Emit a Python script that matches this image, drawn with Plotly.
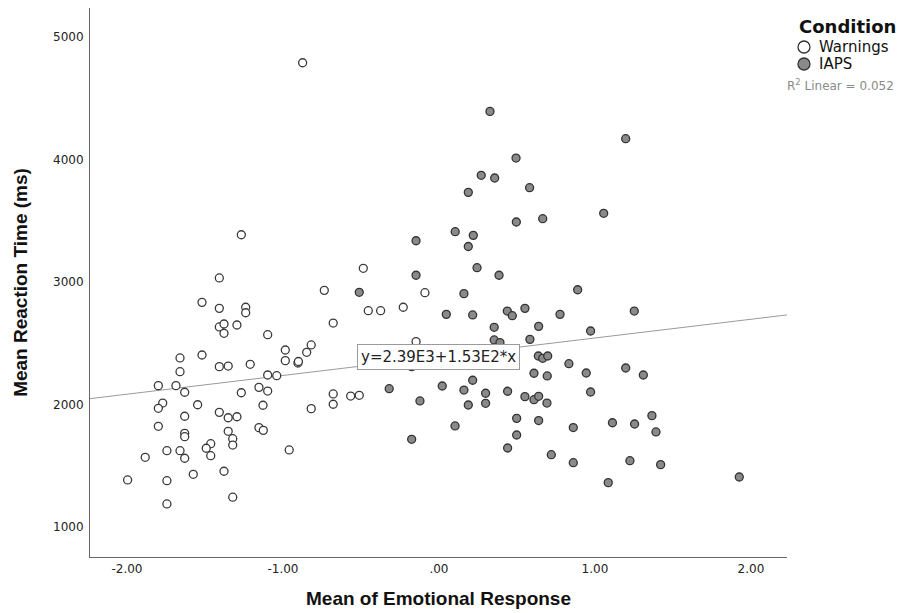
import plotly.graph_objects as go

# ---- data ----
warn_x = [-0.874, -1.267, -1.408, -1.519, -1.408, -1.239, -1.239, -0.735, -1.408, -1.378,
          -1.378, -1.295, -1.098, -0.678, -0.985, -0.819, -0.848, -1.660, -1.519, -0.985,
          -0.904, -0.901, -1.660, -1.408, -1.351, -1.210, -1.098, -1.040, -1.799, -1.686,
          -1.630, -1.267, -1.154, -1.098, -0.678, -0.678, -1.771, -1.799, -1.547, -1.128,
          -0.819, -1.408, -1.351, -1.295, -1.630, -1.799, -1.630, -1.630, -1.351, -1.154,
          -1.126, -1.322, -1.322, -1.463, -1.492, -1.463, -1.744, -1.660, -1.630, -1.883,
          -0.960, -1.575, -1.378, -1.996, -1.744, -1.322, -1.744, -0.485, -0.090, -0.453,
          -0.374, -0.229, -0.147, -0.175, -0.566, -0.511]
warn_y = [4790, 3386, 3033, 2834, 2785, 2794, 2749, 2932, 2633, 2657,
          2581, 2649, 2570, 2665, 2445, 2486, 2426, 2380, 2404, 2358,
          2339, 2351, 2268, 2309, 2314, 2328, 2241, 2235, 2154, 2154,
          2100, 2096, 2140, 2110, 2086, 2002, 2012, 1969, 1998, 1994,
          1966, 1936, 1892, 1900, 1904, 1822, 1765, 1737, 1781, 1811,
          1789, 1721, 1669, 1680, 1643, 1582, 1623, 1623, 1561, 1569,
          1629, 1430, 1455, 1384, 1378, 1243, 1188, 3112, 2913, 2766,
          2766, 2794, 2513, 2309, 2069, 2075]

iaps_x = [-0.511, -0.147, 0.244, 0.385, 0.160, 0.047, 0.216, 0.438, 0.470, 0.354,
          0.354, 0.391, -0.319, 0.021, 0.160, 0.216, 0.299, 0.440, -0.122, 0.188,
          0.299, 0.498, 0.327, 1.197, 0.494, 0.271, 0.357, 0.581, 0.188, 1.056,
          0.496, 0.665, 0.104, 0.220, -0.147, 0.188, 0.889, 0.551, 0.776, 1.252,
          0.639, 0.972, 0.583, 0.637, 0.665, 0.697, 0.833, 0.609, 0.694, 0.944,
          1.197, 1.310, 0.551, 0.609, 0.639, 0.692, 0.972, 0.639, 1.112, 1.254,
          1.365, 0.103, -0.175, 0.861, 0.498, 0.440, 0.720, 0.861, 1.391, 1.224,
          1.421, 1.085, 1.925]
iaps_y = [2916, 3055, 3117, 3055, 2905, 2736, 2731, 2763, 2725, 2630,
          2527, 2505, 2129, 2151, 2118, 2198, 2092, 2108, 2029, 1996,
          2010, 1887, 4393, 4170, 4012, 3871, 3849, 3770, 3732, 3561,
          3490, 3517, 3411, 3381, 3337, 3290, 2937, 2785, 2736, 2763,
          2638, 2600, 2532, 2396, 2377, 2396, 2333, 2255, 2233, 2257,
          2298, 2241, 2064, 2039, 2067, 2012, 2102, 1869, 1851, 1841,
          1909, 1825, 1716, 1812, 1751, 1645, 1590, 1525, 1776, 1541,
          1509, 1362, 1408]

series_names = ["Warnings", "IAPS"]
series_fill = ["white", "#8a8a8a"]

fit_intercept = 2390.0
fit_slope = 153.0
fit_label = "y=2.39E3+1.53E2*x"
r2_label = "R<sup>2</sup> Linear = 0.052"
legend_title = "Condition"

x_range = [-2.237, 2.231]
y_range = [755, 5237]
x_ticks = [-2.0, -1.0, 0.0, 1.0, 2.0]
x_ticklabels = ["-2.00", "-1.00", ".00", "1.00", "2.00"]
y_ticks = [1000, 2000, 3000, 4000, 5000]

# the page body adds an 8px offset; figure size compensates for it
OFF = 8
W, H = 910 - OFF, 613 - OFF
ML, MR, MT, MB = 90 - OFF, 123, 8 - OFF, 56
PW, PH = W - ML - MR, H - MT - MB


def px_to_paper(px, py):
    return (px - OFF - ML) / PW, 1 - (py - OFF - MT) / PH


fit_x = x_range
fit_y = [fit_intercept + fit_slope * v for v in fit_x]

fig = go.Figure()
fig.add_trace(go.Scatter(
    x=fit_x, y=fit_y, mode="lines", showlegend=False,
    line=dict(color="#9a9a9a", width=1), hoverinfo="skip"))
fig.add_trace(go.Scatter(
    x=warn_x, y=warn_y, mode="markers", name=series_names[0], showlegend=False,
    marker=dict(size=8, color=series_fill[0], line=dict(color="#3a3a3a", width=1.3))))
fig.add_trace(go.Scatter(
    x=iaps_x, y=iaps_y, mode="markers", name=series_names[1], showlegend=False,
    marker=dict(size=8, color=series_fill[1], line=dict(color="#333333", width=1.3))))

fig.add_annotation(
    x=0, y=fit_intercept, xref="x", yref="y", text=fit_label, showarrow=False,
    font=dict(family="DejaVu Sans", size=15, color="#222222"),
    bgcolor="white", bordercolor="#9a9a9a", borderwidth=1, borderpad=3)

# legend drawn by hand
lx, ly = px_to_paper(797, 27)
fig.add_annotation(
    x=lx, y=ly, xref="paper", yref="paper", text="<b>" + legend_title + "</b>",
    showarrow=False, xanchor="left", yanchor="middle",
    font=dict(family="DejaVu Sans", size=18, color="#111111"))
for i, (name, fill) in enumerate(zip(series_names, series_fill)):
    cy = 47 + i * 17
    sx, sy = px_to_paper(804, cy)
    fig.add_shape(type="circle", xref="paper", yref="paper",
                  xsizemode="pixel", ysizemode="pixel", xanchor=sx, yanchor=sy,
                  x0=-6, x1=6, y0=-6, y1=6,
                  fillcolor=fill, line=dict(color="#333333", width=1.3))
    tx, ty = px_to_paper(817, cy)
    fig.add_annotation(
        x=tx, y=ty, xref="paper", yref="paper", text=name, showarrow=False,
        xanchor="left", yanchor="middle",
        font=dict(family="DejaVu Sans", size=15, color="#111111"))

rx, ry = px_to_paper(785, 85)
fig.add_annotation(
    x=rx, y=ry, xref="paper", yref="paper", text=r2_label,
    showarrow=False, xanchor="left", yanchor="middle",
    font=dict(family="DejaVu Sans", size=12, color="#8a8a8a"))

axis_title_font = dict(family="Liberation Sans", size=19, color="#111111")
tick_font = dict(family="DejaVu Sans", size=12, color="#222222")

fig.update_layout(
    width=W, height=H,
    margin=dict(l=ML, r=MR, t=MT, b=MB, autoexpand=False),
    paper_bgcolor="white", plot_bgcolor="white",
    showlegend=False,
    xaxis=dict(range=x_range, tickvals=x_ticks, ticktext=x_ticklabels,
               showgrid=False, zeroline=False, showline=True, linecolor="#666666",
               linewidth=1, ticks="", tickfont=tick_font, ticklabelstandoff=1,
               title=dict(text="<b>Mean of Emotional Response</b>", font=axis_title_font,
                          standoff=16)),
    yaxis=dict(range=y_range, tickvals=y_ticks,
               showgrid=False, zeroline=False, showline=True, linecolor="#666666",
               linewidth=1, ticks="", tickfont=tick_font, ticklabelstandoff=3,
               title=dict(text="<b>Mean Reaction Time (ms)</b>", font=axis_title_font,
                          standoff=20)),
)

fig.write_html("out.html")
